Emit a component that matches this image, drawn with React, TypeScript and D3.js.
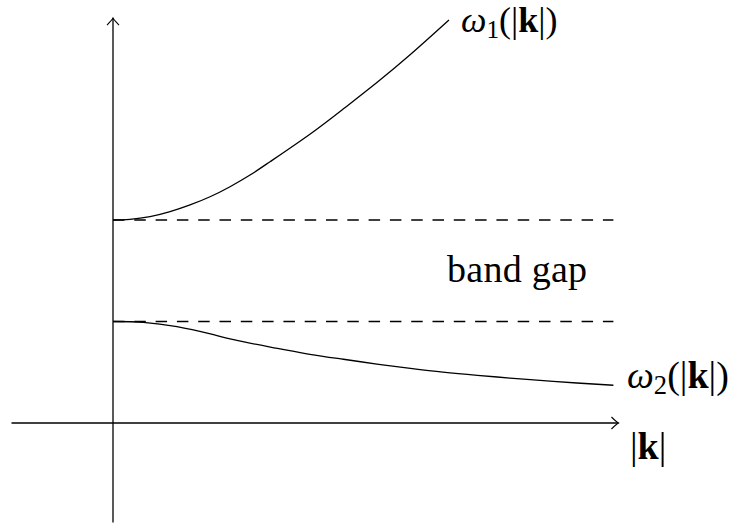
import React from "react";
import * as d3 from "d3";

// upper branch omega_1(|k|)
const upperK = [0, 0.167, 0.365, 0.562, 0.759, 0.956, 1.153, 1.35, 1.547, 1.94, 2.27, 2.6, 2.93, 3.31];
const upperW = [2.0, 2.007, 2.033, 2.082, 2.148, 2.229, 2.328, 2.443, 2.574, 2.845, 3.095, 3.355, 3.63, 3.97];

// lower branch omega_2(|k|)
const lowerK = [0, 0.3, 0.63, 0.96, 1.28, 1.62, 1.94, 2.27, 2.6, 2.93, 3.25, 3.59, 3.91, 4.24, 4.57, 4.93];
const lowerW = [1.0, 0.992, 0.949, 0.877, 0.801, 0.736, 0.677, 0.628, 0.581, 0.539, 0.502, 0.47, 0.443, 0.417, 0.394, 0.372];

// band edges (dashed)
const bandEdges = [1, 2];
const dashEnd = 4.93;

const W = 735;
const H = 529;

const App = () => {
  const svgRef = React.useRef<SVGSVGElement>(null);

  React.useEffect(() => {
    const x = d3.scaleLinear().domain([-1, 5]).range([11.5, 620.5]);
    const y = d3.scaleLinear().domain([-1, 4]).range([524.5, 17]);

    const svgEl = d3.select(svgRef.current);
    svgEl.selectAll("*").remove();
    const svg = svgEl.append("g");

    const stroke = "#000";
    const sw = 1.3;

    // axes
    svg.append("line")
      .attr("x1", x(-1)).attr("x2", x(4.98))
      .attr("y1", y(0)).attr("y2", y(0))
      .attr("stroke", stroke).attr("stroke-width", sw);
    svg.append("line")
      .attr("x1", x(0)).attr("x2", x(0))
      .attr("y1", y(-0.98)).attr("y2", y(3.99))
      .attr("stroke", stroke).attr("stroke-width", sw);

    // arrow heads (tikz-ish open tips)
    const tipX = x(4.98), tipY = y(0);
    svg.append("path")
      .attr("d", `M${tipX - 7},${tipY - 6} Q${tipX - 2},${tipY - 1} ${tipX},${tipY} Q${tipX - 2},${tipY + 1} ${tipX - 7},${tipY + 6}`)
      .attr("fill", "none").attr("stroke", stroke).attr("stroke-width", 1.1);
    const vx = x(0), vy = y(3.99);
    svg.append("path")
      .attr("d", `M${vx - 6},${vy + 7} Q${vx - 1},${vy + 2} ${vx},${vy} Q${vx + 1},${vy + 2} ${vx + 6},${vy + 7}`)
      .attr("fill", "none").attr("stroke", stroke).attr("stroke-width", 1.1);

    // dashed band edges
    svg.selectAll(".edge")
      .data(bandEdges)
      .enter()
      .append("line")
      .attr("x1", x(0)).attr("x2", x(dashEnd))
      .attr("y1", (d) => y(d)).attr("y2", (d) => y(d))
      .attr("stroke", stroke).attr("stroke-width", sw)
      .attr("stroke-dasharray", "11.5 9.8");

    const line = d3.line<[number, number]>()
      .x((d) => x(d[0]))
      .y((d) => y(d[1]))
      .curve(d3.curveNatural);

    const upper = upperK.map((k, i) => [k, upperW[i]] as [number, number]);
    const lower = lowerK.map((k, i) => [k, lowerW[i]] as [number, number]);

    svg.append("path").attr("d", line(upper))
      .attr("fill", "none").attr("stroke", stroke).attr("stroke-width", sw);
    svg.append("path").attr("d", line(lower))
      .attr("fill", "none").attr("stroke", stroke).attr("stroke-width", sw);

    const font = "'Liberation Serif', 'DejaVu Serif', serif";
    const fs = 38;

    const omega = (g: any, size: number, sub: string) => {
      g.append("tspan").attr("font-style", "italic").text("ω");
      g.append("tspan").attr("font-size", size * 0.7).attr("dy", 6).text(sub);
      g.append("tspan").attr("dy", -6).text("(|");
      g.append("tspan").attr("font-weight", "bold").text("k");
      g.append("tspan").text("|)");
    };

    const t1 = svg.append("text")
      .attr("x", 461).attr("y", 32)
      .attr("font-family", font).attr("font-size", 36);
    omega(t1, 36, "1");

    const t2 = svg.append("text")
      .attr("x", 627).attr("y", 388)
      .attr("font-family", font).attr("font-size", fs);
    omega(t2, fs, "2");

    const t3 = svg.append("text")
      .attr("x", 630).attr("y", 459)
      .attr("font-family", font).attr("font-size", fs);
    t3.append("tspan").text("|");
    t3.append("tspan").attr("font-weight", "bold").text("k");
    t3.append("tspan").text("|");

    svg.append("text")
      .attr("x", 447).attr("y", 282)
      .attr("font-family", font).attr("font-size", fs)
      .attr("textLength", 140)
      .text("band gap");
  }, []);

  return (
    <svg
      ref={svgRef}
      width={W}
      height={H}
      style={{ position: "absolute", left: 0, top: 0, background: "#fff" }}
    />
  );
};

export default App;
